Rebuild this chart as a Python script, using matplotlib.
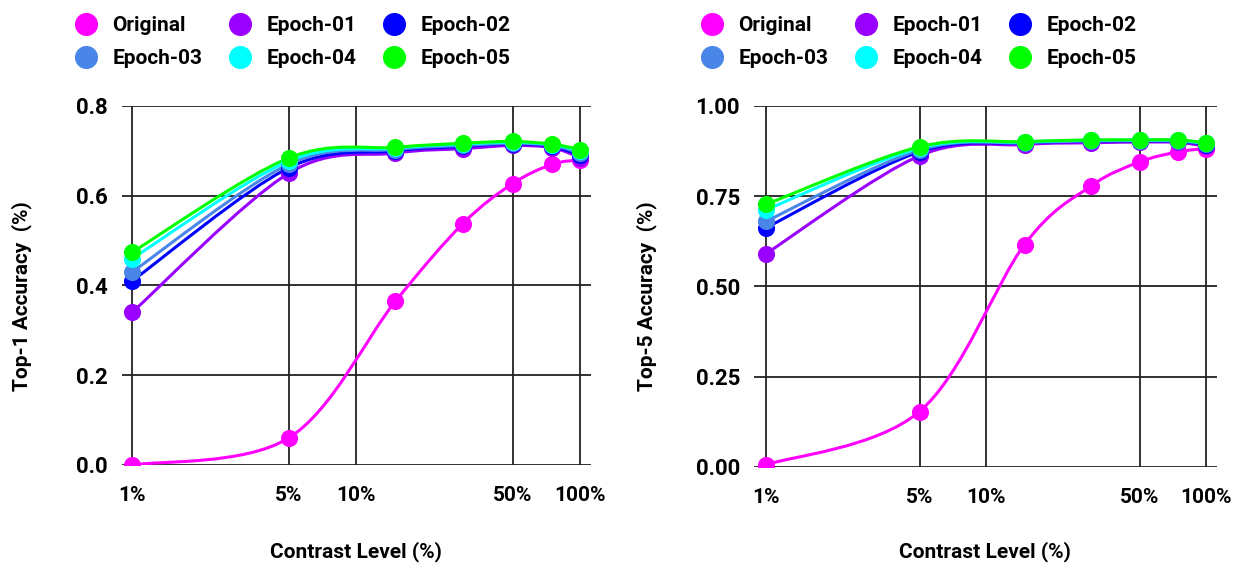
import numpy as np
import matplotlib
matplotlib.use("Agg")
import matplotlib.pyplot as plt
from matplotlib.lines import Line2D
from matplotlib.path import Path
from matplotlib.patches import PathPatch

plt.rcParams['font.family'] = ['Roboto', 'DejaVu Sans']
plt.rcParams['font.weight'] = 'bold'

# contrast levels (%) and accuracy per model
levels = [1, 5, 15, 30, 50, 75, 100]
series_names = ["Original", "Epoch-01", "Epoch-02", "Epoch-03", "Epoch-04", "Epoch-05"]
colors = ["#ff00ff", "#9900ff", "#0000ff", "#4a86e8", "#00ffff", "#00ff00"]

top1_original = [0.0, 0.060, 0.365, 0.538, 0.627, 0.670, 0.680]
top1_epoch01 = [0.340, 0.650, 0.695, 0.705, 0.712, 0.707, 0.685]
top1_epoch02 = [0.410, 0.662, 0.700, 0.710, 0.716, 0.710, 0.690]
top1_epoch03 = [0.430, 0.670, 0.703, 0.712, 0.717, 0.712, 0.695]
top1_epoch04 = [0.460, 0.677, 0.706, 0.715, 0.719, 0.714, 0.700]
top1_epoch05 = [0.474, 0.684, 0.708, 0.717, 0.721, 0.715, 0.703]

top5_original = [0.005, 0.153, 0.616, 0.778, 0.845, 0.873, 0.882]
top5_epoch01 = [0.590, 0.862, 0.893, 0.898, 0.900, 0.899, 0.888]
top5_epoch02 = [0.662, 0.873, 0.897, 0.902, 0.903, 0.902, 0.893]
top5_epoch03 = [0.680, 0.878, 0.898, 0.903, 0.904, 0.903, 0.895]
top5_epoch04 = [0.712, 0.883, 0.900, 0.905, 0.905, 0.905, 0.897]
top5_epoch05 = [0.727, 0.887, 0.901, 0.906, 0.906, 0.906, 0.898]

x_ticks = [1, 5, 10, 50, 100]
x_ticklabels = ["1%", "5%", "10%", "50%", "100%"]


def smooth_line(ax, xs, ys, color):
    # Catmull-Rom through the points, drawn as cubic Bezier segments in axes space
    to_axes = ax.transData + ax.transAxes.inverted()
    P = to_axes.transform(np.column_stack([xs, ys]))
    T = np.zeros_like(P)
    T[1:-1] = (P[2:] - P[:-2]) / 2
    T[0] = (P[1] - P[0]) / 2
    T[-1] = (P[-1] - P[-2]) / 2
    verts = [P[0]]
    codes = [Path.MOVETO]
    for i in range(len(P) - 1):
        verts += [P[i] + T[i] / 3, P[i + 1] - T[i + 1] / 3, P[i + 1]]
        codes += [Path.CURVE4] * 3
    patch = PathPatch(Path(verts, codes), fill=False, edgecolor=color, lw=2.2,
                      transform=ax.transAxes, zorder=3)
    ax.add_patch(patch)


def draw_panel(ax, data, yticks, yfmt, xlim, legend_x):
    ax.set_xscale('log')
    ax.set_xlim(*xlim)
    ax.set_ylim(yticks[0], yticks[-1])
    for vals, c in zip(data, colors):
        smooth_line(ax, levels, vals, c)
        ax.plot(levels, vals, 'o', color=c, ms=11.3, zorder=4)
    ax.set_xticks(x_ticks)
    ax.set_xticklabels(x_ticklabels)
    ax.xaxis.set_minor_locator(matplotlib.ticker.NullLocator())
    ax.set_yticks(yticks)
    ax.set_yticklabels([yfmt.format(v) for v in yticks])
    ax.grid(True, color='#222222', lw=1.3, zorder=1)
    for s in ax.spines.values():
        s.set_visible(False)
    ax.tick_params(length=0)
    ax.tick_params(axis='y', labelsize=16, pad=10)
    ax.tick_params(axis='x', labelsize=15, pad=15)

    # legend fills column by column, so reorder to read row by row
    order = [0, 3, 1, 4, 2, 5]
    handles = [Line2D([], [], ls='none', marker='o', ms=15.6, color=colors[i]) for i in order]
    labels = [series_names[i] for i in order]
    ax.legend(handles, labels, ncol=3, frameon=False, fontsize=15, borderpad=0,
              loc='upper left', bbox_to_anchor=(legend_x / 1236, 1 - 6 / 565),
              bbox_transform=fig.transFigure,
              handlelength=1.0, handletextpad=0.78, columnspacing=1.3,
              labelspacing=0.65)


fig = plt.figure(figsize=(12.36, 5.65), dpi=100)
ax1 = fig.add_axes([0.0987, 0.177, 0.3795, 0.6354])
ax2 = fig.add_axes([0.6100, 0.174, 0.3746, 0.6384])

draw_panel(ax1, [top1_original, top1_epoch01, top1_epoch02, top1_epoch03, top1_epoch04, top1_epoch05],
           [0.0, 0.2, 0.4, 0.6, 0.8], "{:.1f}", (0.9024, 111.96), 65)
draw_panel(ax2, [top5_original, top5_epoch01, top5_epoch02, top5_epoch03, top5_epoch04, top5_epoch05],
           [0.0, 0.25, 0.5, 0.75, 1.0], "{:.2f}", (0.885, 112.2), 691)

fig.text(21.7 / 1236, 1 - 296 / 565, "Top-1 Accuracy  (%)", rotation=90, ha='center', va='center', fontsize=15)
fig.text(647 / 1236, 1 - 296 / 565, "Top-5 Accuracy  (%)", rotation=90, ha='center', va='center', fontsize=15)
fig.text(356 / 1236, 1 - 552 / 565, "Contrast Level (%)", ha='center', va='center', fontsize=15)
fig.text(985 / 1236, 1 - 552 / 565, "Contrast Level (%)", ha='center', va='center', fontsize=15)

fig.savefig("out.png", dpi=100)
